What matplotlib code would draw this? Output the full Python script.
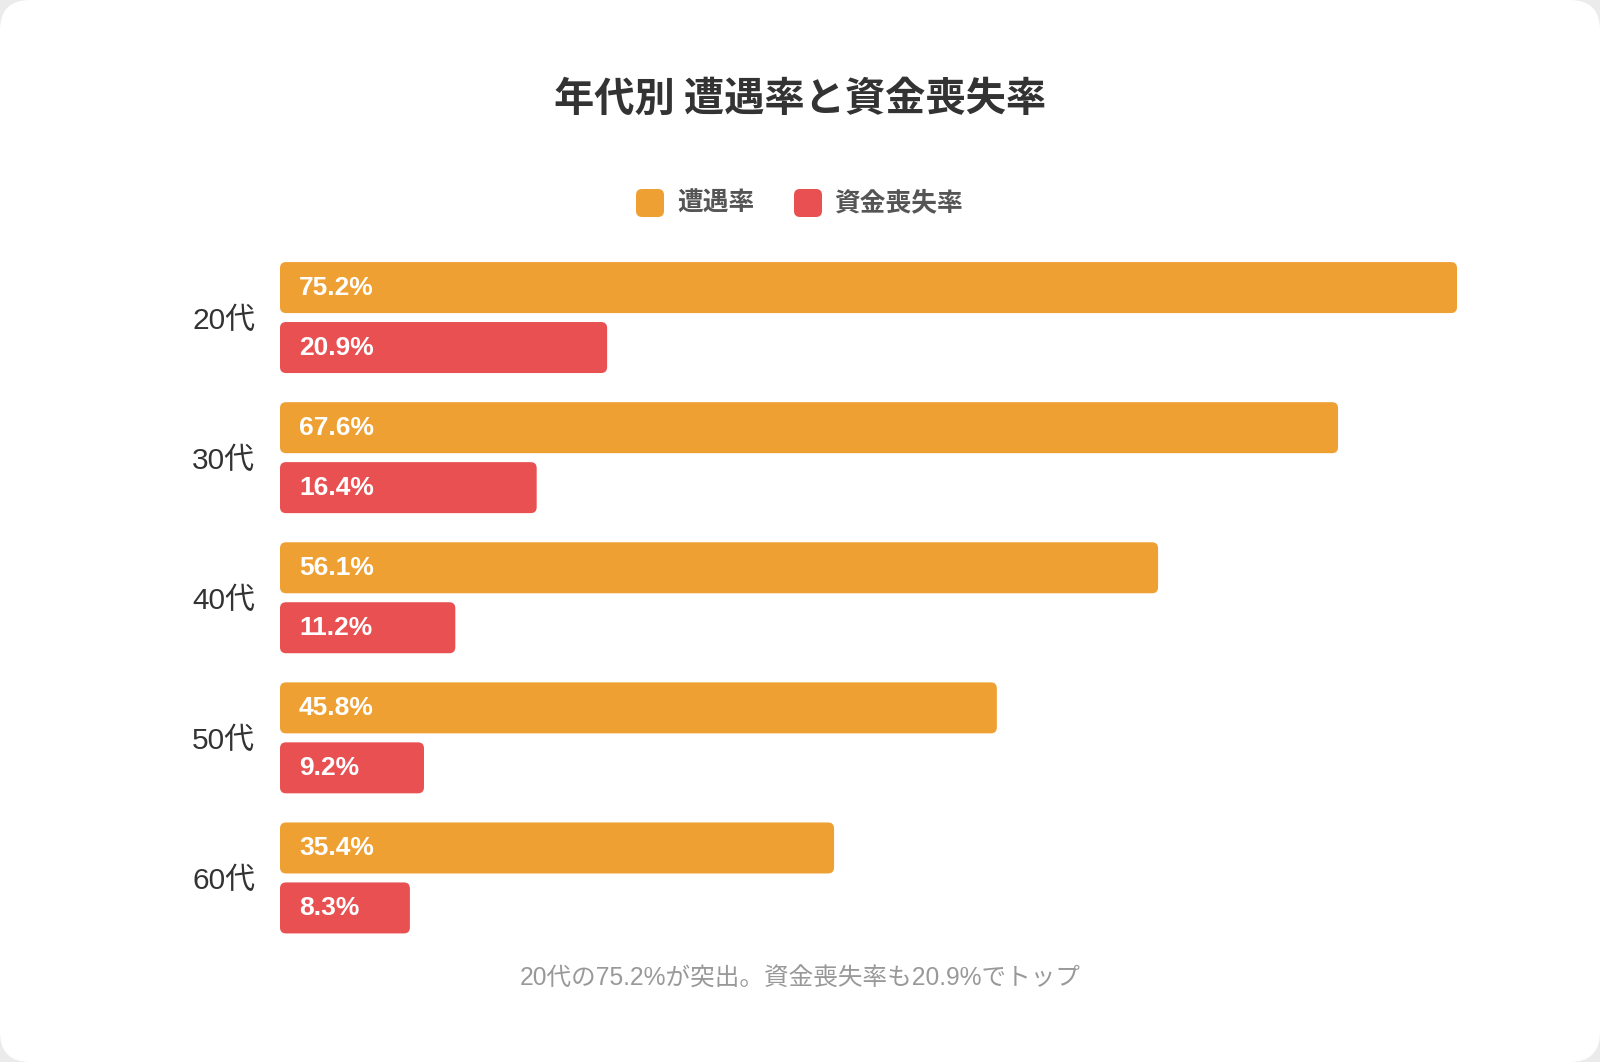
import matplotlib
matplotlib.use("Agg")
import matplotlib.pyplot as plt
from matplotlib.patches import FancyBboxPatch
from matplotlib.transforms import IdentityTransform
import numpy as np

plt.rcParams['font.family'] = ['Liberation Sans', 'Noto Sans CJK JP', 'DejaVu Sans']
CJK = ['Noto Sans CJK JP', 'DejaVu Sans']

# データ
ages = ["20代", "30代", "40代", "50代", "60代"]
encounter_rate = [75.2, 67.6, 56.1, 45.8, 35.4]
loss_rate = [20.9, 16.4, 11.2, 9.2, 8.3]
series_names = ["遭遇率", "資金喪失率"]
title = "年代別 遭遇率と資金喪失率"
note = "20代の75.2%が突出。資金喪失率も20.9%でトップ"

ORANGE = "#EFA032"
RED = "#E85052"
W, H = 1600, 1062

def fx(x):
    return x / W

def fy(y):
    return 1 - y / H

fig = plt.figure(figsize=(16, 10.62), dpi=100)
fig.patch.set_facecolor("#ebebeb")
# 白いカード（角丸）
card = FancyBboxPatch((0, 0), W, H, boxstyle="round,pad=0,rounding_size=30",
                      transform=IdentityTransform(),
                      facecolor="white", edgecolor="none", zorder=-10)
fig.patches.append(card)

ax = fig.add_axes([fx(280), fy(948), fx(1457) - fx(280), (948 - 247.5) / H])
ax.set_facecolor("none")
ax.set_zorder(5)

y = np.arange(len(ages))
bar_h = 0.364
off = 0.214
b1 = ax.barh(y - off, encounter_rate, height=bar_h, color=ORANGE)
b2 = ax.barh(y + off, loss_rate, height=bar_h, color=RED)
ax.set_xlim(0, max(encounter_rate))
ax.set_ylim(len(ages) - 0.5, -0.5)

# 角丸に置き換え
ax_w = 1457 - 280
ax_h = 948 - 247.5
ux = max(encounter_rate) / ax_w  # x units per pixel
uy = len(ages) / ax_h            # y units per pixel
r_px = 6
for bars in (b1, b2):
    for rect in bars:
        x0, y0 = rect.get_x(), rect.get_y()
        w, h = rect.get_width(), rect.get_height()
        rr = FancyBboxPatch((x0, y0), w, h,
                            boxstyle=f"round,pad=0,rounding_size={r_px * ux}",
                            mutation_aspect=uy / ux,
                            facecolor=rect.get_facecolor(), edgecolor="none")
        rect.set_visible(False)
        ax.add_patch(rr)

for bars, vals in ((b1, encounter_rate), (b2, loss_rate)):
    for rect, v in zip(bars, vals):
        ax.text(19 * ux, rect.get_y() + rect.get_height() / 2, f"{v}%",
                color="white", fontsize=19, fontweight="bold",
                ha="left", va="center")

ax.set_yticks(y)
ax.set_yticklabels(ages, fontsize=21.5, color="#333333")
ax.tick_params(axis="y", length=0, pad=18)
ax.set_xticks([])
for s in ax.spines.values():
    s.set_visible(False)

fig.text(0.5, fy(99), title, ha="center", va="center", fontsize=29,
         fontweight="bold", color="#333333", family=CJK)

# 凡例
legend_items = [(636, 677, ORANGE), (794, 834, RED)]
for (sx, tx, c), name in zip(legend_items, series_names):
    sq = FancyBboxPatch((sx, H - 203 - 14), 28, 28,
                        boxstyle="round,pad=0,rounding_size=6",
                        transform=IdentityTransform(),
                        facecolor=c, edgecolor="none")
    fig.patches.append(sq)
    fig.text(fx(tx), fy(203), name, ha="left", va="center", fontsize=18.5,
             fontweight="bold", color="#555555", family=CJK)

fig.text(0.5, fy(979), note, ha="center", va="center", fontsize=17.7,
         color="#999999")

fig.savefig("out.png", dpi=100, facecolor=fig.get_facecolor())
